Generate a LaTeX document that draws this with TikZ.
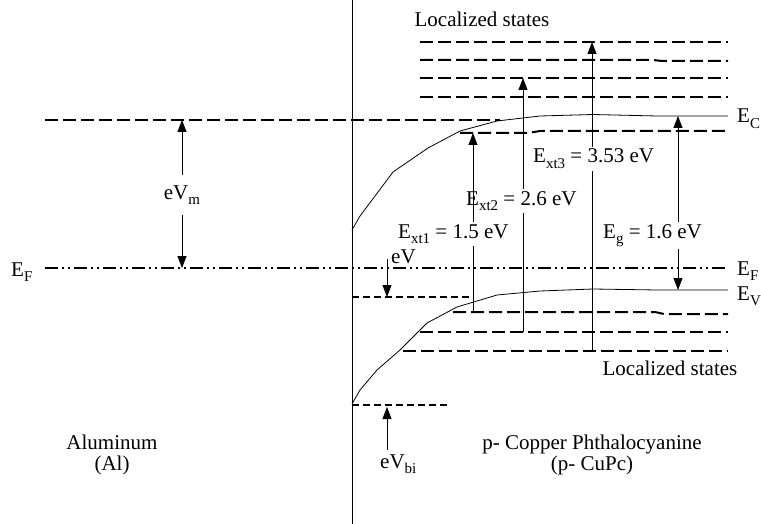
\documentclass[tikz,border=0pt]{standalone}
\usepackage{fontspec}
\setmainfont{Liberation Serif}
\usetikzlibrary{arrows.meta}
\newcommand{\indice}[1]{\raisebox{-5.5pt}{\fontsize{15}{15}\selectfont #1}}

\begin{document}
\begin{tikzpicture}[x=1pt, y=-1pt,
    every node/.style={font=\fontsize{21}{23}\selectfont, inner sep=1pt},
    nivel/.style={line width=2pt, dash pattern=on 13pt off 5pt},
    nivelcorto/.style={line width=1.5pt, dash pattern=on 7pt off 4pt},
    fermi/.style={line width=2pt, dash pattern=on 13pt off 4pt on 2pt off 4pt on 2pt off 4pt},
    banda/.style={line width=0.8pt},
    flecha/.style={line width=0.8pt, -{Triangle[length=12pt,width=9pt]}},
    etiq/.style={fill=white, inner sep=2pt, anchor=base west}
]
\useasboundingbox (0,0) rectangle (761,524);

% --- interfaz ---
\draw[line width=0.9pt] (352,0) -- (352,524);

% --- niveles del aluminio ---
\coordinate (alc) at (45,120);
\coordinate (efl) at (45,268);
\draw[nivel] (alc) -- (500,120);
\draw[fermi] (efl) -- (728,268);
\node[anchor=base west] (EFl) at (10,276) {E\indice{F}};

% --- bandas del CuPc ---
\draw[banda] (352,230) -- (360,216) -- (375,196) -- (393,172) -- (428,148) -- (460,131)
    -- (497,121) -- (540,116) -- (593,114.5) -- (657,116) -- (728,116) coordinate (ec);
\draw[banda] (352,404) -- (360,390) -- (377,370) -- (400,350) -- (427,323) -- (457,307)
    -- (497,295) -- (540,291) -- (593,289) -- (657,290) -- (728,290) coordinate (ev);
\node[anchor=base west] (EC) at (736,123) {E\indice{C}};
\node[anchor=base west] (EFr) at (736,275) {E\indice{F}};
\node[anchor=base west] (EV) at (736,300) {E\indice{V}};

% --- estados localizados ---
\draw[nivel] (420,42) -- (728,42);
\draw[nivel] (420,60) -- (653,60) -- (662,61) -- (728,61);
\draw[nivel] (420,78) -- (728,78);
\draw[nivel] (420,97) -- (728,97);
\draw[nivel] (460,133) -- (528,133) -- (540,131) -- (728,131);
\draw[nivel] (453,312) -- (655,312) -- (664,314) -- (728,314);
\draw[nivel] (420,332) -- (728,332);
\draw[nivel] (403,351) -- (728,351);
\node[anchor=base] (loc1) at (482,27) {Localized states};
\node[anchor=base] (loc2) at (670,375) {Localized states};

% --- eV y eV_bi ---
\draw[nivelcorto] (352,297) -- (473,297);
\draw[nivelcorto] (352,405) -- (450,405);
\draw[flecha] (387,259) -- (387,297);
\node[anchor=base west] (eV) at (390,263) {eV};
\node[anchor=base west] (eVbi) at (379,468) {eV\indice{bi}};
\draw[flecha] (eVbi.north -| 387,0) ++(0,-3) -- (387,407);

% --- eV_m ---
\node[inner ysep=10pt] (eVm) at (182,195) {eV\indice{m}};
\draw[flecha] (eVm.north) -- (eVm.north |- alc);
\draw[flecha] (eVm.south) -- (eVm.south |- efl);

% --- transiciones ---
\draw[flecha] (523,332) -- (523,78);
\draw[flecha] (592,351) -- (592,42);
\draw[flecha, {Triangle[length=12pt,width=9pt]}-{Triangle[length=12pt,width=9pt]}] (678,116) -- (678,290);
\node[etiq] (Ext3) at (531,163) {E\indice{xt3} = 3.53 eV};
\node[etiq] (Ext2) at (464,205) {E\indice{xt2} = 2.6 eV};
\node[etiq] (Eg) at (601,238) {E\indice{g} = 1.6 eV};
\draw[flecha] (473,312) -- (473,133);
\node[etiq] (Ext1) at (396,238) {E\indice{xt1} = 1.5 eV};

% --- materiales ---
\node[anchor=base] (al1) at (112,449) {Aluminum};
\node[anchor=base] (al2) at (112,470) {(Al)};
\node[anchor=base] (cu1) at (592,449) {p- Copper Phthalocyanine};
\node[anchor=base] (cu2) at (592,470) {(p- CuPc)};
\end{tikzpicture}
\end{document}
